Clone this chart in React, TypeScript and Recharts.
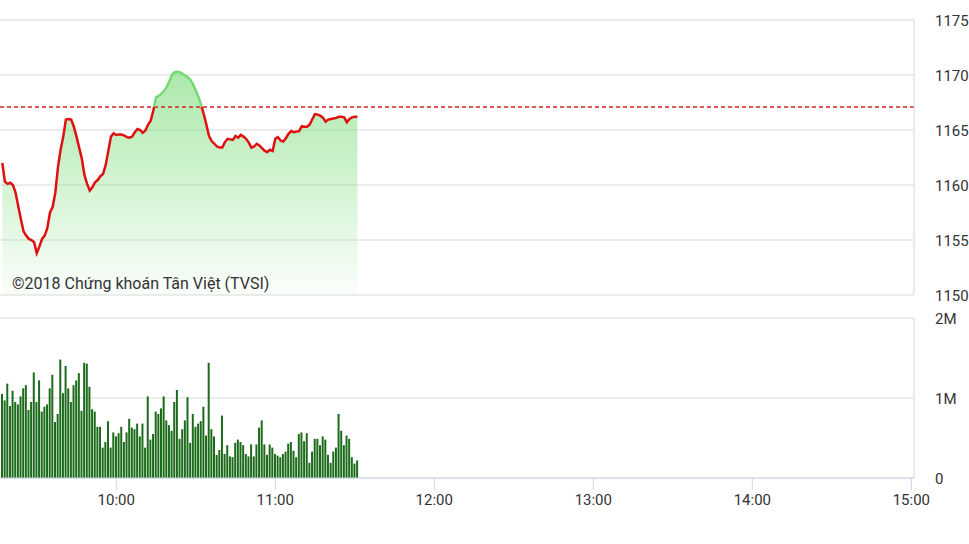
import {
  ComposedChart,
  Area,
  Line,
  Bar,
  XAxis,
  YAxis,
  CartesianGrid,
  ReferenceLine,
} from "recharts";

// VN-Index intraday, one value per minute from 9:17
const firstMinute = "9:17";
const sessionStart = "9:15";
const sessionEnd = "15:01";
const timeTicks = ["10:00", "11:00", "12:00", "13:00", "14:00", "15:00"];

const refPrice = 1167.1;
const priceTicks = [1150, 1155, 1160, 1165, 1170, 1175];
const volTicks = [0, 1, 2]; // millions

const prices = [
  1162.0, 1160.3, 1160.1, 1160.2, 1160.0, 1159.3, 1158.1, 1156.9, 1155.8, 1155.4,
  1155.1, 1155.0, 1154.8, 1153.8, 1154.4, 1155.1, 1155.4, 1156.1, 1157.5, 1158.0,
  1159.3, 1161.6, 1163.2, 1164.4, 1165.95, 1166.0, 1165.95, 1165.3, 1164.4, 1163.4,
  1162.4, 1160.9, 1160.1, 1159.5, 1159.8, 1160.25, 1160.45, 1160.8, 1161.0, 1161.8,
  1163.1, 1164.4, 1164.7, 1164.55, 1164.6, 1164.6, 1164.5, 1164.35, 1164.3, 1164.4,
  1164.8, 1165.1, 1165.0, 1164.75, 1164.95, 1165.5, 1165.85, 1166.8, 1167.95, 1168.1,
  1168.3, 1168.55, 1168.9, 1169.4, 1170.0, 1170.25, 1170.3, 1170.25, 1170.1, 1169.95,
  1169.8, 1169.55, 1169.15, 1168.6, 1168.0, 1167.3, 1166.45, 1165.5, 1164.45, 1164.0,
  1163.75, 1163.5, 1163.4, 1163.4, 1163.9, 1164.2, 1164.15, 1164.1, 1164.45, 1164.3,
  1164.55, 1164.4, 1164.2, 1163.85, 1163.4, 1163.5, 1163.75, 1163.6, 1163.35, 1163.1,
  1163.0, 1163.2, 1163.1, 1164.2, 1164.35, 1164.05, 1163.95, 1164.25, 1164.65, 1164.9,
  1164.8, 1164.85, 1164.9, 1165.35, 1165.3, 1165.3, 1165.5, 1166.0, 1166.45, 1166.4,
  1166.3, 1166.1, 1165.75, 1165.95, 1166.0, 1166.05, 1166.1, 1166.2, 1166.2, 1166.15,
  1165.7, 1166.0, 1166.15, 1166.2, 1166.2,
];

const volumes = [
  1.05, 0.97, 1.18, 0.9, 1.09, 0.95, 0.92, 1.02, 1.12, 1.16,
  0.85, 0.95, 1.32, 0.95, 1.22, 0.83, 0.89, 0.92, 1.12, 1.29,
  0.7, 0.8, 1.48, 1.06, 1.4, 1.12, 0.95, 1.16, 1.22, 1.31,
  0.84, 1.44, 1.43, 1.14, 0.86, 0.83, 0.64, 0.64, 0.38, 0.45,
  0.71, 0.38, 0.57, 0.52, 0.56, 0.64, 0.45, 0.57,
  0.74, 0.63, 0.61, 0.68, 0.52, 0.68, 0.38, 1.02, 0.48, 0.55,
  0.83, 0.8, 0.87, 1.02, 0.72, 0.66, 0.59, 0.95, 1.1, 0.49,
  0.61, 0.72, 1.01, 0.44, 0.8, 0.64, 0.68, 0.71, 0.89, 0.53,
  1.44, 0.61, 0.52, 0.29, 0.35, 0.78, 0.3, 0.41, 0.27, 0.26,
  0.44, 0.48, 0.45, 0.41, 0.3, 0.27, 0.42, 0.27, 0.42, 0.63,
  0.72, 0.42, 0.29, 0.42, 0.38, 0.3, 0.28, 0.26, 0.3, 0.33,
  0.43, 0.45, 0.34, 0.26, 0.55, 0.57, 0.46, 0.56, 0.19, 0.33,
  0.49, 0.49, 0.41, 0.52, 0.48, 0.29, 0.19, 0.33, 0.38, 0.8,
  0.59, 0.41, 0.53, 0.49, 0.26, 0.18, 0.22,
];

const toMin = (s: string) => {
  const [h, m] = s.split(":").map(Number);
  return h * 60 + m;
};
const fmtTime = (m: number) =>
  `${Math.floor(m / 60)}:${String(m % 60).padStart(2, "0")}`;

const start = toMin(firstMinute);
const rows = prices.map((p, i) => ({ t: start + i, price: p, vol: volumes[i] }));
const xDomain = [toMin(sessionStart), toMin(sessionEnd)];

const maxP = Math.max(...prices);
const minP = Math.min(...prices);
const splitAt = (maxP - refPrice) / (maxP - minP);

const axisColor = "#ccd6eb";
const gridColor = "#d9d9d9";
const tickStyle = { fill: "#333", fontSize: 15, dy: 1 };

export default function App() {
  return (
    <div
      style={{
        position: "absolute",
        left: 0,
        top: 0,
        width: 969,
        height: 544,
        overflow: "hidden",
        background: "#fff",
        fontFamily: "Roboto, sans-serif",
      }}
    >
      <div style={{ position: "absolute", left: -3, top: 0 }}>
        <ComposedChart
          width={972}
          height={312}
          data={rows}
          margin={{ top: 20, right: 0, bottom: 17, left: 0 }}
        >
          <defs>
            <linearGradient id="priceFill" x1="0" y1="0" x2="0" y2="1">
              <stop offset="0%" stopColor="#74da74" stopOpacity={1} />
              <stop offset="100%" stopColor="#74da74" stopOpacity={0.05} />
            </linearGradient>
            <linearGradient id="priceStroke" x1="0" y1="0" x2="0" y2="1">
              <stop offset={splitAt} stopColor="#74da74" />
              <stop offset={splitAt} stopColor="#e01010" />
            </linearGradient>
          </defs>
          <CartesianGrid vertical={false} stroke={gridColor} />
          <XAxis type="number" dataKey="t" domain={xDomain} hide />
          <YAxis
            orientation="right"
            domain={[1150, 1175]}
            ticks={priceTicks}
            interval={0}
            width={55}
            axisLine={{ stroke: axisColor }}
            tickLine={false}
            tickSize={0}
            tickMargin={21}
            tick={tickStyle}
          />
          <ReferenceLine
            y={refPrice}
            stroke="#d42222"
            strokeDasharray="4 3"
            strokeWidth={1.5}
          />
          <Area
            dataKey="price"
            type="linear"
            stroke="none"
            fill="url(#priceFill)"
            isAnimationActive={false}
          />
          <Line
            dataKey="price"
            type="linear"
            stroke="url(#priceStroke)"
            strokeWidth={2.5}
            dot={false}
            activeDot={false}
            isAnimationActive={false}
          />
        </ComposedChart>
      </div>

      <div style={{ position: "absolute", left: -3, top: 308 }}>
        <ComposedChart
          width={972}
          height={210}
          data={rows}
          margin={{ top: 10, right: 0, bottom: 0, left: 0 }}
        >
          <CartesianGrid vertical={false} stroke={gridColor} />
          <XAxis
            type="number"
            dataKey="t"
            domain={xDomain}
            ticks={timeTicks.map(toMin)}
            interval={0}
            tickFormatter={fmtTime}
            height={40}
            axisLine={{ stroke: axisColor }}
            tickLine={{ stroke: axisColor }}
            tickSize={12}
            tickMargin={4}
            tick={{ fill: "#333", fontSize: 15 }}
          />
          <YAxis
            orientation="right"
            domain={[0, 2]}
            ticks={volTicks}
            interval={0}
            width={55}
            axisLine={{ stroke: axisColor }}
            tickLine={false}
            tickSize={0}
            tickMargin={21}
            tick={tickStyle}
            tickFormatter={(v: number) => (v === 0 ? "0" : `${v}M`)}
          />
          <Bar dataKey="vol" fill="#1b6b1b" barSize={2} isAnimationActive={false} />
        </ComposedChart>
      </div>

      <div
        style={{
          position: "absolute",
          left: 12,
          top: 274,
          fontSize: 16,
          lineHeight: "19px",
          color: "#333",
        }}
      >
        ©2018 Chứng khoán Tân Việt (TVSI)
      </div>
    </div>
  );
}
